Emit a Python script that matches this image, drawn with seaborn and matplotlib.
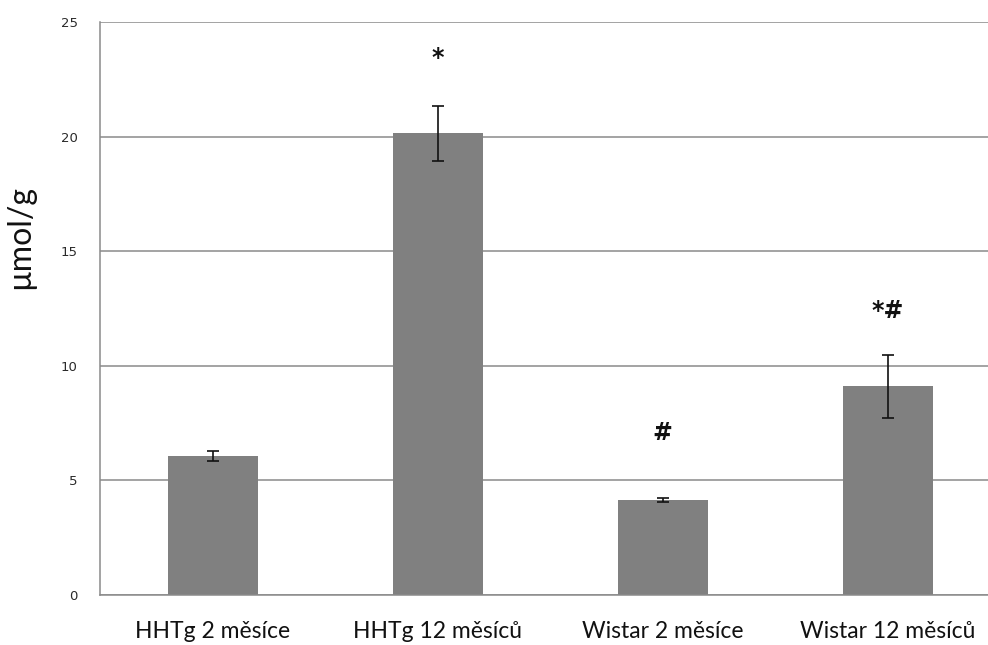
import matplotlib
matplotlib.use("Agg")
import matplotlib.pyplot as plt
import seaborn as sns
import numpy as np
import pandas as pd

# Group means and standard errors (µmol/g)
categories = ["HHTg 2 měsíce", "HHTg 12 měsíců", "Wistar 2 měsíce", "Wistar 12 měsíců"]
means = [6.05, 20.15, 4.15, 9.1]
errors = [0.22, 1.2, 0.1, 1.38]
marks = ["", "*", "#", "*#"]
mark_offsets = [0, 2.1, 2.8, 1.9]
y_ticks = [0, 5, 10, 15, 20, 25]

sns.set_theme(style="white")
plt.rcParams["font.family"] = ["Lato", "DejaVu Sans"]

W, H = 988, 645
fig = plt.figure(figsize=(W / 100, H / 100), dpi=100)
ax = fig.add_axes([100 / W, 50 / H, 900 / W, 573 / H])

df = pd.DataFrame({"group": categories, "value": means})
sns.barplot(data=df, x="group", y="value", color="#808080", saturation=1,
            width=0.4, ax=ax, zorder=2, edgecolor="none")
ax.errorbar(np.arange(len(categories)), means, yerr=errors, fmt="none",
            ecolor="#111111", elinewidth=1.2, capsize=4, capthick=1.2, zorder=3)

for i, (m, e, t, off) in enumerate(zip(means, errors, marks, mark_offsets)):
    if t:
        ax.text(i, m + e + off, t, ha="center", va="center", fontsize=17,
                fontweight="bold", color="#111111", family=["DejaVu Sans"])

ax.set_ylim(0, 25)
ax.set_xlim(-0.5, 3.5)
ax.set_yticks(y_ticks)
ax.set_yticklabels([str(v) for v in y_ticks], fontsize=9.5, color="#2a2a2a",
                   family=["DejaVu Sans"])
ax.yaxis.grid(True, color="#8a8a8a", linewidth=1.1, zorder=0)
ax.set_axisbelow(True)

ax.set_xticks(range(len(categories)))
ax.set_xticklabels(categories, fontsize=16.5, color="#111111")
ax.set_xticks(np.arange(-0.5, 4.0, 1.0), minor=True)
ax.tick_params(axis="x", which="major", length=0, pad=19)
ax.tick_params(axis="x", which="minor", length=7, color="#8a8a8a", width=1, direction="out")
ax.tick_params(axis="y", length=0, pad=16)

ax.set_xlabel("")
ax.set_ylabel("µmol/g", fontsize=23, color="#111111")
ax.yaxis.set_label_coords(-0.072, 0.625)

for side in ["top", "right"]:
    ax.spines[side].set_visible(False)
for side in ["left", "bottom"]:
    ax.spines[side].set_color("#8a8a8a")
    ax.spines[side].set_linewidth(1.1)

fig.savefig("out.png", dpi=100, facecolor="white")
